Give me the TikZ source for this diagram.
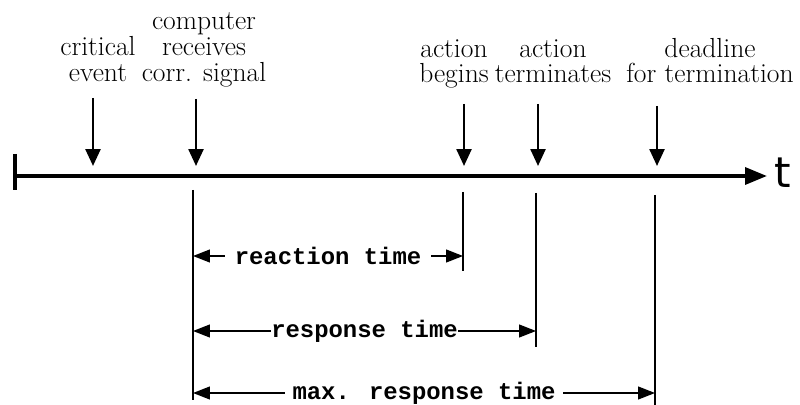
\documentclass[tikz,border=0pt]{standalone}
\usepackage{fontspec}
\newfontfamily\plotfont{Liberation Mono}
\newfontfamily\axisfont{DejaVu Sans}
\usetikzlibrary{positioning,arrows.meta}

\begin{document}
\begin{tikzpicture}[
  x=0.025cm, y=-0.025cm,
  evlbl/.style={font=\fontsize{19.6}{18.6}\selectfont, align=center, inner sep=0pt, anchor=base},
  evlbltight/.style={evlbl, font=\fontsize{19.6}{17.8}\selectfont},
  axisline/.style={line width=2.8pt, -{Triangle[length=5.5mm, width=4.2mm]}},
  tickline/.style={line width=2.8pt},
  evarr/.style={line width=1.8pt, -{Triangle[length=4.2mm, width=3.7mm]}},
  dropline/.style={line width=1.6pt},
  dimarr/.style={line width=1pt, {Triangle[length=4.2mm, width=3.2mm]}-{Triangle[length=4.2mm, width=3.2mm]}},
  dimlbl/.style={font=\plotfont\bfseries\fontsize{17}{17}\selectfont, fill=white, inner ysep=2pt},
]
\useasboundingbox (0,0) rectangle (800,405);

% ===== time axis =====
\coordinate (t0) at (15,176);
\coordinate (tend) at (767,176);
\coordinate (tickTop) at (15,154);
\coordinate (tickBot) at (15,190);
\draw[tickline] (tickTop) -- (tickBot);
\draw[axisline] (t0) -- (tend);
\node[font=\axisfont\fontsize{30}{30}\selectfont, inner sep=0pt, anchor=base] (tlbl) at (783,188) {t};

% ===== events above the axis (base = last line) =====
\node[evlbl] (critev) at (98,82) {critical\\event};
\node[evlbl] (compsig) at (204,82) {computer\\receives\\corr. signal};
\node[evlbltight] (actbeg) at (454,83) {action\\begins};
\node[evlbltight] (actterm) at (553,83) {action\\terminates};
\node[evlbltight] (deadl) at (710,83) {deadline\\for termination};

\coordinate (ceTop) at (93,98);
\coordinate (ce) at (93,166);
\coordinate (csTop) at (196,99);
\coordinate (cs) at (196,166);
\coordinate (abTop) at (464,104);
\coordinate (ab) at (464,166);
\coordinate (atTop) at (538,104);
\coordinate (at) at (538,166);
\coordinate (dlTop) at (657,106);
\coordinate (dl) at (657,166);

\draw[evarr] (ceTop) -- (ce);
\draw[evarr] (csTop) -- (cs);
\draw[evarr] (abTop) -- (ab);
\draw[evarr] (atTop) -- (at);
\draw[evarr] (dlTop) -- (dl);

% ===== drop lines below the axis =====
\coordinate (csDrop) at (193,190);
\coordinate (csEnd) at (193,400);
\coordinate (abDrop) at (463,192);
\coordinate (abEnd) at (463,271);
\coordinate (atDrop) at (536,193);
\coordinate (atEnd) at (536,347);
\coordinate (dlDrop) at (655,195);
\coordinate (dlEnd) at (655,405);

\draw[dropline] (csDrop) -- (csEnd);
\draw[dropline] (abDrop) -- (abEnd);
\draw[dropline] (atDrop) -- (atEnd);
\draw[dropline] (dlDrop) -- (dlEnd);

% ===== time spans =====
\coordinate (reacL) at (193,256);
\coordinate (reacR) at (463,256);
\coordinate (respL) at (193,331);
\coordinate (respR) at (536,331);
\coordinate (maxL) at (193,393);
\coordinate (maxR) at (655,393);

\draw[dimarr] (reacL) -- node[dimlbl, inner xsep=7pt] (reaclbl) {reaction time} (reacR);
\draw[dimarr] (respL) -- node[dimlbl, inner xsep=0pt] (resplbl) {response time} (respR);
\draw[dimarr] (maxL) -- node[dimlbl, inner xsep=5pt] (maxlbl) {max. response time} (maxR);

\end{tikzpicture}
\end{document}
